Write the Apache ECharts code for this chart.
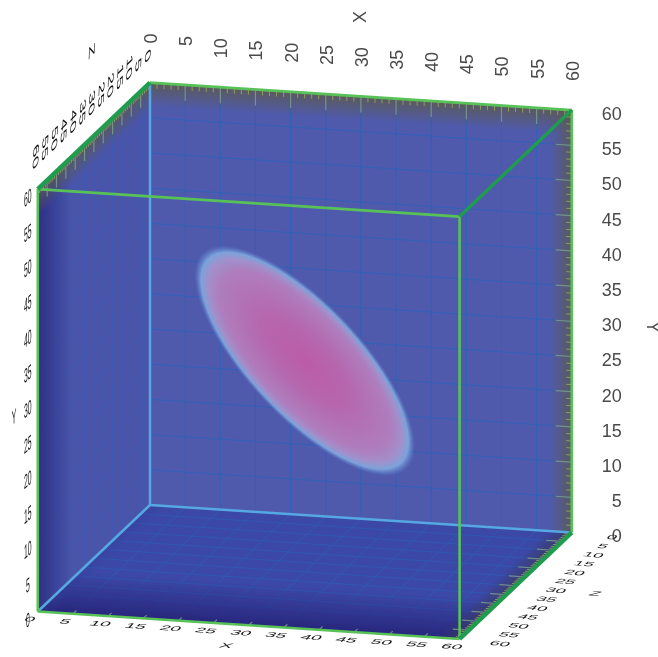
<!DOCTYPE html>
<html>
<head>
<meta charset="utf-8">
<script src="https://cdn.jsdelivr.net/npm/echarts@6/dist/echarts.min.js"></script>
<style>
html,body{margin:0;padding:0;background:#fff}
#chart{width:658px;height:657px;filter:blur(0.45px)}
</style>
</head>
<body>
<div id="chart"></div>
<script>
// tick values of the three axes
var xTicks = [0,5,10,15,20,25,30,35,40,45,50,55,60];
var yTicks = [0,5,10,15,20,25,30,35,40,45,50,55,60];
var zTicks = [0,5,10,15,20,25,30,35,40,45,50,55,60];
var unitTicks = [0,1,2,3,4,5,6,7,8,9,10,11,12,13,14,15,16,17,18,19,20,21,22,23,24,25,26,27,28,29,30,31,32,33,34,35,36,37,38,39,40,41,42,43,44,45,46,47,48,49,50,51,52,53,54,55,56,57,58,59,60];
var axisNames = ['X','Y','Z'];
// the blob in the middle of the volume, in axis units
var blobCenter = [30,30,30];
var blobAxes = [21.2,8.1];
var blobAngle = 46.7;

// oblique view of the box: pixels per axis unit
function P(x,y,z){
    return [150 + 7.03*x - 1.87*z, 505 + 0.458*x - 7.04*y + 1.775*z];
}
function off(p,dx,dy){ return [p[0]+dx,p[1]+dy]; }

var walls = [
    {pts:[[0,60,0],[60,60,0],[60,0,0],[0,0,0]], fill:'#4f5aac'},
    {pts:[[0,60,60],[0,60,0],[0,0,0],[0,0,60]], fill:'#4a55aa'},
    {pts:[[0,0,0],[60,0,0],[60,0,60],[0,0,60]], fill:'#3c48a6'}
];
// dark falloff along wall edges: wall, edge start, edge end, width in px, colour
var bands = [
    {wall:0, a:[0,60,0],  b:[60,60,0], w:24, c:'92,90,86',  o:0.95},
    {wall:0, a:[60,60,0], b:[60,0,0],  w:22, c:'92,90,86',  o:0.9},
    {wall:1, a:[0,60,60], b:[0,0,60],  w:34, c:'44,46,130', o:0.95},
    {wall:1, a:[0,60,60], b:[0,60,0],  w:20, c:'90,90,80',  o:0.9},
    {wall:2, a:[0,0,60],  b:[60,0,60], w:42, c:'40,38,125', o:1},
    {wall:2, a:[60,0,0],  b:[60,0,60], w:18, c:'58,58,100', o:0.9},
    {wall:2, a:[0,0,0],   b:[0,0,60],  w:12, c:'50,60,150', o:0.4}
];

function wallCenter(w){
    var c=[0,0];
    w.pts.forEach(function(p){var q=P(p[0],p[1],p[2]);c[0]+=q[0]/4;c[1]+=q[1]/4;});
    return c;
}

var seg = function(a,b){ return a.concat(b); };
var inner = xTicks.slice(1,-1);
var gridBack=[], gridLeft=[], gridBottom=[];
inner.forEach(function(v){
    gridBack.push(seg([v,0,0],[v,60,0]));
    gridBack.push(seg([0,v,0],[60,v,0]));
    gridLeft.push(seg([0,0,v],[0,60,v]));
    gridLeft.push(seg([0,v,0],[0,v,60]));
    gridBottom.push(seg([v,0,0],[v,0,60]));
    gridBottom.push(seg([0,0,v],[60,0,v]));
});

var majorT=[], minorT=[];
unitTicks.forEach(function(v){
    var m = v%5===0;
    var t = m ? majorT : minorT;
    var l = m ? 2.3 : 0.8;
    t.push(seg([v,60,0],[v,60-l,0]));          // back wall, top edge
    t.push(seg([60,v,0],[60-l,v,0]));          // back wall, right edge
    t.push(seg([0,60,v],[0,60-l,v]));          // left wall, top edge
    t.push(seg([60,0,v],[60-l,0,v]));          // floor, right edge
    if(m) t.push(seg([v,0,60],[v,0,60-l*0.8])); // floor, front edge
});

var frameLight = [
    seg([0,60,60],[60,60,60]), seg([60,60,60],[60,0,60]),
    seg([0,0,60],[0,60,60]), seg([0,60,0],[60,60,0]), seg([60,60,0],[60,0,0]), seg([0,0,60],[60,0,60])
];
var frameDark = [
    seg([0,60,60],[0,60,0]), seg([60,0,0],[60,0,60])
];
var frameDarkThin = [
    seg([60,60,60],[60,60,0])
];
var frameBlue = [
    seg([0,60,0],[0,0,0]), seg([0,0,0],[60,0,0]), seg([0,0,0],[0,0,60])
];

// text styles per face: baseline vector, up vector, alignment, colour
var faces = {
    topX:   {b:[0,-1],       u:[-1,0],       align:'right',  fill:'#4a4a4a'},
    rightY: {b:[1,0],        u:[0,-1],       align:'right',  fill:'#4a4a4a'},
    topZ:   {b:[-0.05,1.2],  u:[0.46,-0.46], align:'right',  fill:'#151515'},
    leftY:  {b:[0.38,-0.33], u:[0,-1.1],     align:'center', fill:'#151515'},
    botX:   {b:[1.02,0.07],  u:[0.32,-0.36], align:'center', fill:'#151515'},
    botZ:   {b:[0.98,0.08],  u:[0.32,-0.34], align:'center', fill:'#151515'},
    titleCW:{b:[0,1],        u:[1,0],        align:'center', fill:'#4a4a4a'},
    titleCCW:{b:[0,-1],      u:[-1,0],       align:'center', fill:'#4a4a4a'}
};
var labels = [];
xTicks.forEach(function(v){
    labels.push({t:v, p:off(P(v,60,0),2,-49), f:'topX'});
    labels.push({t:v, p:off(P(v,0,60),-8,8), f:'botX'});
});
yTicks.forEach(function(v){
    labels.push({t:v, p:off(P(60,v,0),50,5), f:'rightY'});
    labels.push({t:v, p:off(P(0,v,60),-10,10), f:'leftY'});
});
zTicks.forEach(function(v){
    labels.push({t:v, p:off(P(0,60,v),-3,-20), f:'topZ'});
    labels.push({t:v, p:off(P(60,0,v),40,5), f:'botZ'});
});
labels.push({t:axisNames[0], p:[361,17], f:'titleCCW'});
labels.push({t:axisNames[1], p:[652,327], f:'titleCW'});
labels.push({t:axisNames[2], p:[91,58], f:'topZ'});
labels.push({t:axisNames[0], p:[226,646], f:'botX'});
labels.push({t:axisNames[1], p:[14,418], f:'leftY'});
labels.push({t:axisNames[2], p:[595,594], f:'botZ'});

function lineSeries(list,style,z){
    return {
        type:'custom', silent:true, z:z, data:list, animation:false,
        renderItem:function(params,api){
            var a=api.coord(P(api.value(0),api.value(1),api.value(2)));
            var b=api.coord(P(api.value(3),api.value(4),api.value(5)));
            return {type:'line',shape:{x1:a[0],y1:a[1],x2:b[0],y2:b[1]},style:style};
        }
    };
}

function wallPoly(w,api){
    return w.pts.map(function(p){return api.coord(P(p[0],p[1],p[2]));});
}

// a 2x2 map split into rotate, scale, rotate so that text can be sheared
function placeText(item){
    var f=faces[item.f];
    var m00=f.b[0], m10=f.b[1], m01=-f.u[0], m11=-f.u[1];
    var E=(m00+m11)/2, F=(m00-m11)/2, G=(m10+m01)/2, H=(m10-m01)/2;
    var Q=Math.hypot(E,H), R=Math.hypot(F,G);
    var a1=Math.atan2(G,F), a2=Math.atan2(H,E);
    return {
        type:'group', x:item.p[0], y:item.p[1],
        rotation:-(a2+a1)/2, scaleX:Q+R, scaleY:Q-R,
        children:[{
            type:'text', rotation:-(a2-a1)/2,
            style:{text:String(item.t),x:0,y:0,align:f.align,verticalAlign:'middle',
                fontFamily:'Liberation Sans',fontSize:18,fill:f.fill}
        }]
    };
}

var option = {
    animation:false,
    backgroundColor:'#fff',
    grid:{left:0,right:0,top:0,bottom:0},
    xAxis:{type:'value',min:0,max:658,show:false},
    yAxis:{type:'value',min:0,max:657,inverse:true,show:false},
    series:[
        {
            type:'custom',silent:true,z:1,data:walls.map(function(w,i){return i;}),
            renderItem:function(params,api){
                var w=walls[params.dataIndex];
                return {type:'polygon',shape:{points:wallPoly(w,api)},style:{fill:w.fill}};
            }
        },
        lineSeries(gridBack,{stroke:'#2f62b8',lineWidth:1},2),
        lineSeries(gridLeft,{stroke:'#3d5ab4',lineWidth:1},2),
        lineSeries(gridBottom,{stroke:'#2f58b2',lineWidth:1},2),
        {
            type:'custom',silent:true,z:3,data:bands.map(function(b,i){return i;}),
            renderItem:function(params,api){
                var d=bands[params.dataIndex], w=walls[d.wall];
                var a=P(d.a[0],d.a[1],d.a[2]), b=P(d.b[0],d.b[1],d.b[2]), c=wallCenter(w);
                var ex=b[0]-a[0], ey=b[1]-a[1], len=Math.hypot(ex,ey);
                var nx=-ey/len, ny=ex/len;
                if((c[0]-a[0])*nx+(c[1]-a[1])*ny<0){nx=-nx;ny=-ny;}
                var g=new echarts.graphic.LinearGradient(a[0],a[1],a[0]+nx*d.w,a[1]+ny*d.w,[
                    {offset:0,color:'rgba('+d.c+','+d.o+')'},
                    {offset:1,color:'rgba('+d.c+',0)'}
                ],true);
                return {type:'polygon',shape:{points:wallPoly(w,api)},style:{fill:g}};
            }
        },
        lineSeries(minorT,{stroke:'#8f9a62',lineWidth:1},4),
        lineSeries(majorT,{stroke:'#7fa08e',lineWidth:1.2,opacity:0.8},4),
        {
            type:'custom',silent:true,z:5,data:[blobCenter],
            renderItem:function(params,api){
                var c=api.coord(P(api.value(0),api.value(1),api.value(2)));
                return {
                    type:'group',x:c[0],y:c[1],rotation:-blobAngle*Math.PI/180,
                    scaleX:blobAxes[0]*7.03,scaleY:blobAxes[1]*7.03,
                    children:[{
                        type:'circle',shape:{cx:0,cy:0,r:1},
                        style:{fill:new echarts.graphic.RadialGradient(0.5,0.5,0.5,[
                            {offset:0,color:'rgba(202,92,166,0.88)'},
                            {offset:0.4,color:'rgba(196,105,174,0.88)'},
                            {offset:0.78,color:'rgba(188,130,192,0.88)'},
                            {offset:0.88,color:'rgba(172,152,208,0.88)'},
                            {offset:0.94,color:'rgba(138,182,230,0.78)'},
                            {offset:1,color:'rgba(100,140,215,0)'}
                        ])}
                    }]
                };
            }
        },
        lineSeries(frameBlue,{stroke:'#55a8e2',lineWidth:2.5},6),
        lineSeries(frameLight,{stroke:'#58c258',lineWidth:2.6},7),
        lineSeries(frameDarkThin,{stroke:'#1f9c4e',lineWidth:3.5},7),
        lineSeries(frameDark,{stroke:'#1f9c4e',lineWidth:4.5},7),
        {
            type:'custom',silent:true,z:8,data:labels.map(function(l,i){return i;}),
            renderItem:function(params){ return placeText(labels[params.dataIndex]); }
        }
    ]
};
var chart = echarts.init(document.getElementById('chart'),null,{renderer:'canvas'});
chart.setOption(option);
</script>
</body>
</html>
